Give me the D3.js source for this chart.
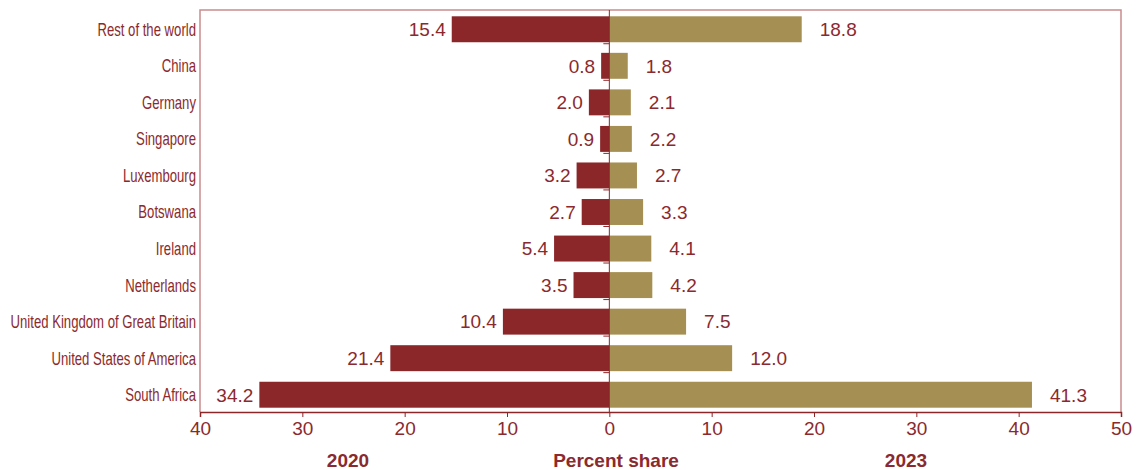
<!DOCTYPE html>
<html>
<head>
<meta charset="utf-8">
<script src="https://cdn.jsdelivr.net/npm/d3@7"></script>
<style>
  body { margin: 0; background: #fff; }
  svg { display: block; }
</style>
</head>
<body>
<svg id="chart" width="1138" height="470"></svg>
<script>
// data
const countries = ["Rest of the world", "China", "Germany", "Singapore", "Luxembourg", "Botswana",
  "Ireland", "Netherlands", "United Kingdom of Great Britain", "United States of America", "South Africa"];
const share2020 = [15.4, 0.8, 2.0, 0.9, 3.2, 2.7, 5.4, 3.5, 10.4, 21.4, 34.2];
const share2023 = [18.8, 1.8, 2.1, 2.2, 2.7, 3.3, 4.1, 4.2, 7.5, 12.0, 41.3];
const xTicks = [-40, -30, -20, -10, 0, 10, 20, 30, 40, 50];

const red = "#8b2629";
const gold = "#a68f52";
const textCol = "#8b2a2e";
const frameCol = "#c98c8f";

const margin = {top: 10, left: 200, right: 17, bottom: 58};
const width = 1138, height = 470;

const svg = d3.select("#chart");

const x = d3.scaleLinear().domain([-40, 50]).range([margin.left, width - margin.right]);
// bands sit a little lower than the frame top
const y = d3.scaleBand().domain(countries).range([margin.top + 1, height - margin.bottom + 1])
  .paddingInner(0.29).paddingOuter(0.145);

const g = svg.append("g");

// frame
g.append("path")
  .attr("d", `M${x(-40)},${height - margin.bottom}V${margin.top}H${x(50)}V${height - margin.bottom}`)
  .attr("fill", "none").attr("stroke", frameCol).attr("stroke-width", 1.5);

// bars
g.selectAll("rect.l").data(countries).join("rect")
  .attr("x", (d, i) => x(-share2020[i]))
  .attr("width", (d, i) => x(0) - x(-share2020[i]))
  .attr("y", d => y(d)).attr("height", y.bandwidth())
  .attr("fill", red);

g.selectAll("rect.r").data(countries).join("rect")
  .attr("x", x(0))
  .attr("width", (d, i) => x(share2023[i]) - x(0))
  .attr("y", d => y(d)).attr("height", y.bandwidth())
  .attr("fill", gold);

// value labels
const valFont = "'Liberation Sans', Arial, sans-serif";
g.selectAll("text.vl").data(countries).join("text")
  .attr("x", (d, i) => x(-share2020[i]) - 6)
  .attr("y", d => y(d) + y.bandwidth() / 2)
  .attr("dy", "0.36em")
  .attr("text-anchor", "end")
  .style("font", `19px ${valFont}`).attr("fill", textCol)
  .text((d, i) => share2020[i].toFixed(1));

g.selectAll("text.vr").data(countries).join("text")
  .attr("x", (d, i) => x(share2023[i]) + 18)
  .attr("y", d => y(d) + y.bandwidth() / 2)
  .attr("dy", "0.36em")
  .attr("text-anchor", "start")
  .style("font", `19px ${valFont}`).attr("fill", textCol)
  .text((d, i) => share2023[i].toFixed(1));

// category labels (condensed look: no narrow font installed, so squeeze horizontally)
const squeeze = 0.73;
g.selectAll("text.cat").data(countries).join("text")
  .attr("transform", d => `translate(${margin.left - 4},${y(d) + y.bandwidth() / 2}) scale(${squeeze},1)`)
  .attr("dy", "0.36em")
  .attr("text-anchor", "end")
  .style("font", `18px ${valFont}`)
  .attr("fill", textCol)
  .text(d => d);

// zero line with small ticks between categories
g.append("line")
  .attr("x1", x(0)).attr("x2", x(0))
  .attr("y1", margin.top).attr("y2", height - margin.bottom)
  .attr("stroke", red).attr("stroke-width", 1);
g.selectAll("line.bt").data(countries.slice(0, -1)).join("line")
  .attr("x1", x(0) - 6).attr("x2", x(0))
  .attr("y1", d => y(d) + y.bandwidth() + 1.5)
  .attr("y2", d => y(d) + y.bandwidth() + 1.5)
  .attr("stroke", red).attr("stroke-width", 1);

// x axis
const axis = g.append("g")
  .attr("transform", `translate(0,${height - margin.bottom})`)
  .call(d3.axisBottom(x).tickValues(xTicks).tickSize(5).tickFormat(d => Math.abs(d)));
axis.select(".domain").attr("stroke", red).attr("stroke-width", 1.5);
axis.selectAll(".tick line").attr("stroke", red);
axis.selectAll(".tick text")
  .attr("fill", textCol)
  .attr("dy", "0.8em")
  .style("font", `19px ${valFont}`);

// titles
const titles = [
  {t: "2020", x: 348},
  {t: "Percent share", x: 616},
  {t: "2023", x: 906}
];
g.selectAll("text.ttl").data(titles).join("text")
  .attr("x", d => d.x).attr("y", 467)
  .attr("text-anchor", "middle")
  .style("font", `bold 19px ${valFont}`)
  .attr("fill", textCol)
  .text(d => d.t);
</script>
</body>
</html>
